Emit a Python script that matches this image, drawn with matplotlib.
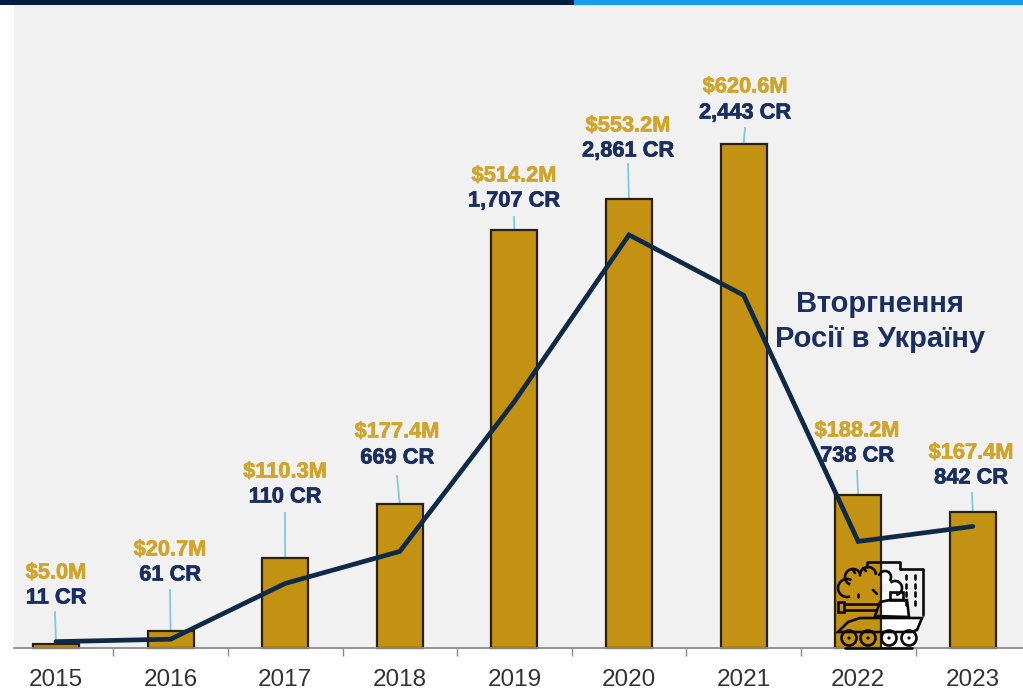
import matplotlib
matplotlib.use("Agg")
import matplotlib.pyplot as plt
import matplotlib.patheffects as pe
from matplotlib.patches import Rectangle, Circle, Polygon, Arc

years = ["2015","2016","2017","2018","2019","2020","2021","2022","2023"]
funds_musd = [5.0,20.7,110.3,177.4,514.2,553.2,620.6,188.2,167.4]
# the plotted line (2015 and 2017 sit away from their printed labels)
line_cr = [44,61,447,669,1707,2861,2443,738,842]
funds_text = ["$5.0M","$20.7M","$110.3M","$177.4M","$514.2M","$553.2M","$620.6M","$188.2M","$167.4M"]
cr_text = ["11 CR","61 CR","110 CR","669 CR","1,707 CR","2,861 CR","2,443 CR","738 CR","842 CR"]
# label layout in px
gold_y = [573,550,472,432,176,126,87,431,453]
navy_y = [598,575,497,458,201,151,113,456,478]
label_x = [56,170,285,397,514,628,745,857,971]
lead_top = [612,590,513,476,217,164,128,471,493]
lead_x_top = [55,170,285,397,514,628,745,857,972]

W,H = 1023,694
X0,DX = 56.0,114.6
BASE,PXM,PXC = 648,0.812,0.1444
GOLD="#C39212"; TXTGOLD="#CFA52B"; NAVY="#1B2F5E"; LINE="#0F2A47"; BG="#F1F1F1"

plt.rcParams['font.family']=['Liberation Sans','DejaVu Sans']
fig=plt.figure(figsize=(W/100,H/100),dpi=100,facecolor="white")
px=fig.add_axes([0,0,1,1],zorder=0); px.set_xlim(0,W); px.set_ylim(H,0); px.axis("off")
px.add_patch(Rectangle((14,5),W-14,BASE-5,fc=BG,ec="none"))
px.add_patch(Rectangle((0,0),574,5,fc="#021E44",ec="none"))
px.add_patch(Rectangle((574,0),W-574,5,fc="#159BF0",ec="none"))
# white silhouette of the icon lies under the bars
for cx,cy,r in [(885,577,7),(895,588,8)]:
    px.add_patch(Circle((cx,cy),r,fc="white",ec="none"))
px.add_patch(Polygon([(875,614),(880,602),(890,600),(907,600),(909,618),(921,618),(917,630),(913,634),(870,634),(870,618)],closed=True,fc="white",ec="none"))
px.add_patch(Rectangle((881,592),22,20,fc="white",ec="none"))
for cx in (889,909):
    px.add_patch(Circle((cx,638),7.5,fc="white",ec="none"))

ax=fig.add_axes([0,0,1,1],zorder=1); ax.patch.set_alpha(0)
ax.set_xlim(-X0/DX,(W-X0)/DX)
ax.set_ylim(-(H-BASE)/PXM,BASE/PXM)
xs=list(range(len(years)))
ax.bar(xs,funds_musd,width=0.4,color=GOLD,edgecolor="#2A2012",linewidth=1.6,zorder=2)
for s in ("top","left","right"): ax.spines[s].set_visible(False)
ax.spines["bottom"].set_position(("data",0))
ax.spines["bottom"].set_bounds(-(X0-14)/DX,(W-X0)/DX)
ax.spines["bottom"].set_color("#8C8C8C"); ax.spines["bottom"].set_linewidth(1.3)
ax.spines["bottom"].set_zorder(3)
ax.set_yticks([])
ax.set_xticks(xs); ax.set_xticklabels(years,fontsize=17.5,color="#333333")
ax.tick_params(axis="x",which="major",length=0,pad=15)
ax.set_xticks([i+.5 for i in xs[:-1]],minor=True)
ax.tick_params(axis="x",which="minor",length=6,width=1,color="#8C8C8C")

ax2=fig.add_axes([0,0,1,1],zorder=2); ax2.patch.set_alpha(0); ax2.axis("off")
ax2.set_xlim(ax.get_xlim()); ax2.set_ylim(-(H-BASE)/PXC,BASE/PXC)
ax2.plot(xs,line_cr,color=LINE,lw=3.4,solid_joinstyle="miter",solid_capstyle="round")

top=fig.add_axes([0,0,1,1],zorder=3); top.patch.set_alpha(0); top.axis("off")
top.set_xlim(0,W); top.set_ylim(H,0)
for i in xs:
    bar_top=BASE-funds_musd[i]*PXM
    px.plot([lead_x_top[i],X0+DX*i],[lead_top[i],bar_top],color="#7CCBE3",lw=1.3)
    for y,t,c in ((gold_y[i],funds_text[i],TXTGOLD),(navy_y[i],cr_text[i],NAVY)):
        top.text(label_x[i],y,t,color=c,fontsize=15.7,fontweight="bold",ha="center",va="center",
                 path_effects=[pe.withStroke(linewidth=0.5,foreground=c)])
top.text(880,304,"Вторгнення",color=NAVY,fontsize=21,fontweight="bold",ha="center",va="center")
top.text(880,339,"Росії в Україну",color=NAVY,fontsize=21,fontweight="bold",ha="center",va="center")

# tank / city icon outlines
K="#0A0A0A"; lw=1.9
def ln(xx,yy): top.plot(xx,yy,color=K,lw=lw,solid_capstyle="round",solid_joinstyle="round")
ln([867,867,900,900],[567,562,562,569])
ln([900,923,923],[569,569,615])
for y in [575,584,592,601]:
    ln([906,906],[y,y+4]); ln([915,915],[y,y+4])
# smoke
for cx,cy,r,a,b in [(847,588,9,70,300),(853,577,8,110,340),(868,575,8,170,360),(885,577,6,190,400),(895,588,7,230,440)]:
    top.add_patch(Arc((cx,cy),2*r,2*r,theta1=a,theta2=b,color=K,lw=lw))
ln([858,858],[594,597]); ln([873,877],[590,594]); ln([853,855],[570,573]); ln([863,866],[568,571])
# tank
top.add_patch(Polygon([(838,632),(848,622),(860,618),(922,618),(917,630),(911,632)],closed=True,fc="none",ec=K,lw=lw))
top.add_patch(Polygon([(875,616),(880,602),(890,600),(907,600),(909,617)],closed=True,fc="none",ec=K,lw=lw))
top.add_patch(Rectangle((890,592),13,8,fc="none",ec=K,lw=lw))
top.add_patch(Rectangle((838,602),6,10,fc="none",ec=K,lw=lw))
ln([844,879],[604,604]); ln([844,876],[610,610])
for cx in (849,868,889,909):
    top.add_patch(Circle((cx,638),7.5,fc="none",ec=K,lw=lw))
    top.add_patch(Circle((cx,638),1.6,fc=K,ec="none"))
ln([845,912],[647.5,647.5])
fig.savefig("out.png",dpi=100,facecolor="white")
